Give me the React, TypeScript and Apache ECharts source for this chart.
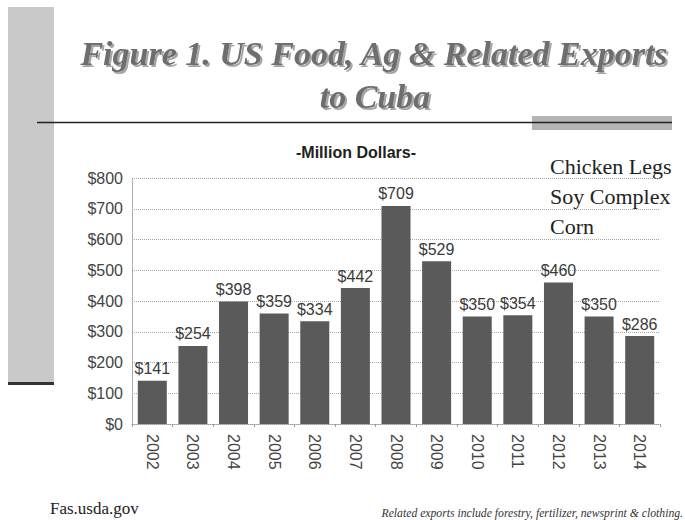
import React, { useEffect, useRef } from "react";
import * as echarts from "echarts";

const years = ["2002", "2003", "2004", "2005", "2006", "2007", "2008", "2009", "2010", "2011", "2012", "2013", "2014"];
const exportsMillion = [141, 254, 398, 359, 334, 442, 709, 529, 350, 354, 460, 350, 286];
const products = ["Chicken Legs", "Soy Complex", "Corn"];
const titleLines = ["Figure 1. US Food, Ag & Related Exports", "to Cuba"];
const unitLabel = "-Million Dollars-";
const sourceText = "Fas.usda.gov";
const noteText = "Related exports include forestry, fertilizer, newsprint & clothing.";

export default function App() {
  const ref = useRef<HTMLDivElement>(null);
  useEffect(() => {
    if (!ref.current) return;
    const chart = echarts.init(ref.current, undefined, { renderer: "svg" });
    const serif = "'Liberation Serif', 'Times New Roman', serif";
    const sans = "'Liberation Sans', Arial, sans-serif";
    const titleStyle = {
      textAlign: "center",
      textVerticalAlign: "bottom",
      font: "italic bold 34px " + serif,
      fill: "#6e6e6e",
      textShadowColor: "rgba(0,0,0,0.35)",
      textShadowOffsetX: 2,
      textShadowOffsetY: 2,
      textShadowBlur: 1,
    };
    chart.setOption({
      animation: false,
      backgroundColor: "#ffffff",
      grid: { left: 132, right: 25, top: 178, bottom: 96 },
      xAxis: {
        type: "category",
        data: years,
        axisLine: { lineStyle: { color: "#9a9a9a", type: "dotted", width: 1 } },
        axisTick: { show: true, length: 3, lineStyle: { color: "#9a9a9a" } },
        axisLabel: { rotate: -90, color: "#444", fontFamily: sans, fontSize: 16, margin: 10 },
      },
      yAxis: {
        type: "value",
        min: 0,
        max: 800,
        interval: 100,
        axisLine: { show: true, lineStyle: { color: "#9a9a9a", type: "dotted" } },
        axisTick: { show: false },
        splitLine: { lineStyle: { color: "#a8a8a8", type: "dotted", width: 1 } },
        axisLabel: { color: "#444", fontFamily: sans, fontSize: 16, margin: 9, formatter: (v: number) => "$" + v },
      },
      series: [
        {
          type: "bar",
          data: exportsMillion,
          barWidth: 29,
          itemStyle: { color: "#5a5a5a" },
          label: {
            show: true,
            position: "top",
            distance: 4,
            color: "#3a3a3a",
            fontFamily: sans,
            fontSize: 16,
            formatter: (p: any) => "$" + p.value,
          },
        },
      ],
      graphic: [
        { type: "rect", shape: { x: 8, y: 7, width: 46, height: 375 }, style: { fill: "#c9c9c9" } },
        { type: "rect", shape: { x: 8, y: 382, width: 46, height: 3 }, style: { fill: "#333" } },
        { type: "rect", shape: { x: 532, y: 116, width: 140, height: 14 }, style: { fill: "#b4b4b4" } },
        { type: "line", shape: { x1: 37, y1: 122.5, x2: 672, y2: 122.5 }, style: { stroke: "#222", lineWidth: 1.5 } },
        { type: "text", x: 374, y: 70, style: { text: titleLines[0], ...titleStyle } },
        { type: "text", x: 375, y: 113, style: { text: titleLines[1], ...titleStyle } },
        {
          type: "text",
          x: 356,
          y: 152,
          style: { text: unitLabel, textAlign: "center", textVerticalAlign: "middle", font: "bold 16px " + sans, fill: "#222" },
        },
        ...products.map((p, i) => ({
          type: "text",
          x: 550,
          y: 166 + i * 30,
          style: { text: p, textAlign: "left", textVerticalAlign: "middle", font: "22px " + serif, fill: "#222" },
        })),
        {
          type: "text",
          x: 50,
          y: 508,
          style: { text: sourceText, textAlign: "left", textVerticalAlign: "middle", font: "17px " + serif, fill: "#222" },
        },
        {
          type: "text",
          x: 683,
          y: 513,
          style: { text: noteText, textAlign: "right", textVerticalAlign: "middle", font: "italic 11.7px " + serif, fill: "#333" },
        },
      ],
    });
    return () => chart.dispose();
  }, []);
  return <div ref={ref} style={{ position: "fixed", left: 0, top: 0, width: 685, height: 520 }} />;
}
